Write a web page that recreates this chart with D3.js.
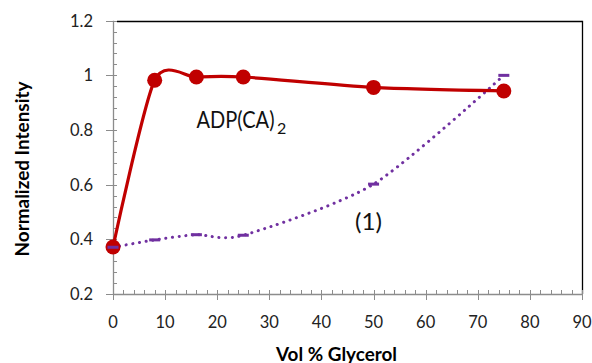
<!DOCTYPE html>
<html>
<head>
<meta charset="utf-8">
<script src="https://cdn.jsdelivr.net/npm/d3@7"></script>
<style>
  body { margin: 0; background: #fff; }
  text { font-family: Lato, "Open Sans", "Liberation Sans", sans-serif; }
</style>
</head>
<body>
<svg id="chart" width="592" height="363"></svg>
<script>
// data
var glycerol   = [0, 8, 16, 25, 50, 75];
var adpValues  = [0.372, 0.982, 0.994, 0.994, 0.956, 0.943];
var cmpdValues = [0.371, 0.398, 0.417, 0.415, 0.602, 1.0];
var xTicks = [0, 10, 20, 30, 40, 50, 60, 70, 80, 90];
var yTicks = [0.2, 0.4, 0.6, 0.8, 1, 1.2];

var svg = d3.select('#chart');
var pLeft = 113, pRight = 582, pTop = 20.7, pBottom = 294;

var x = d3.scaleLinear().domain([0, 90]).range([pLeft, pRight]);
var y = d3.scaleLinear().domain([0.2, 1.2]).range([pBottom, pTop]);

var grey = '#8c8c8c';
function snap(v) { return Math.round(v) + 0.5; }

// frame: top + right black lines
svg.append('line').attr('x1', pLeft + 4).attr('x2', pRight).attr('y1', snap(pTop)).attr('y2', snap(pTop))
  .attr('stroke', '#000').attr('stroke-width', 1.3);
svg.append('line').attr('x1', snap(pRight)).attr('x2', snap(pRight)).attr('y1', pTop).attr('y2', pBottom)
  .attr('stroke', '#000').attr('stroke-width', 1.3);

// y axis: minor ticks inside, major ticks outside
var yMinor = d3.range(0, 26).map(function(i) { return 0.2 + i * 0.04; });
svg.selectAll('.ymin').data(yMinor).enter().append('line')
  .attr('x1', pLeft).attr('x2', pLeft + 4)
  .attr('y1', function(d) { return snap(y(d)); })
  .attr('y2', function(d) { return snap(y(d)); })
  .attr('stroke', grey);
svg.selectAll('.ymaj').data(yTicks).enter().append('line')
  .attr('x1', pLeft - 7).attr('x2', pLeft)
  .attr('y1', function(d) { return snap(y(d)); })
  .attr('y2', function(d) { return snap(y(d)); })
  .attr('stroke', grey);
svg.append('line').attr('x1', snap(pLeft)).attr('x2', snap(pLeft)).attr('y1', pTop).attr('y2', pBottom)
  .attr('stroke', grey).attr('stroke-width', 1.3);

// x axis
var xMinor = d3.range(0, 46).map(function(i) { return i * 2; });
svg.selectAll('.xmin').data(xMinor).enter().append('line')
  .attr('x1', function(d) { return snap(x(d)); })
  .attr('x2', function(d) { return snap(x(d)); })
  .attr('y1', pBottom - 4).attr('y2', pBottom)
  .attr('stroke', grey);
svg.selectAll('.xmaj').data(xTicks).enter().append('line')
  .attr('x1', function(d) { return snap(x(d)); })
  .attr('x2', function(d) { return snap(x(d)); })
  .attr('y1', pBottom).attr('y2', pBottom + 6)
  .attr('stroke', grey);
svg.append('line').attr('x1', pLeft).attr('x2', pRight).attr('y1', snap(pBottom)).attr('y2', snap(pBottom))
  .attr('stroke', grey).attr('stroke-width', 1.3);

// tick labels
svg.selectAll('.ylab').data(yTicks).enter().append('text')
  .attr('x', 93).attr('y', function(d) { return y(d); })
  .attr('dy', '0.36em').attr('text-anchor', 'end')
  .attr('font-size', 16.5).attr('fill', '#222')
  .text(function(d) { return d; });
svg.selectAll('.xlab').data(xTicks).enter().append('text')
  .attr('x', function(d) { return x(d); }).attr('y', 328)
  .attr('text-anchor', 'middle')
  .attr('font-size', 16.5).attr('fill', '#222')
  .text(function(d) { return d; });

// axis titles
svg.append('text').attr('transform', 'translate(29,169) rotate(-90)')
  .attr('text-anchor', 'middle').attr('font-size', 18).attr('font-weight', 'bold')
  .attr('textLength', 175).attr('lengthAdjust', 'spacingAndGlyphs')
  .text('Normalized Intensity');
svg.append('text').attr('x', 276).attr('y', 361)
  .attr('font-size', 18).attr('font-weight', 'bold')
  .attr('textLength', 121).attr('lengthAdjust', 'spacingAndGlyphs')
  .text('Vol % Glycerol');

var pts = function(vals) { return glycerol.map(function(g, i) { return [g, vals[i]]; }); };
// cardinal spline, close to Excel's smoothed line
var line = d3.line()
  .x(function(d) { return x(d[0]); })
  .y(function(d) { return y(d[1]); })
  .curve(d3.curveCardinal.tension(0.25));

// purple dotted series with dash markers
svg.append('path').datum(pts(cmpdValues)).attr('d', line)
  .attr('fill', 'none').attr('stroke', '#7030A0').attr('stroke-width', 3)
  .attr('stroke-dasharray', '0.1 6.6').attr('stroke-linecap', 'round');
svg.selectAll('.dash').data(pts(cmpdValues)).enter().append('rect')
  .attr('x', function(d) { return x(d[0]) - 5.5; })
  .attr('y', function(d) { return y(d[1]) - 1.5; })
  .attr('width', 11).attr('height', 3)
  .attr('fill', '#7030A0');

// red series
svg.append('path').datum(pts(adpValues)).attr('d', line)
  .attr('fill', 'none').attr('stroke', '#C00000').attr('stroke-width', 3.2);
svg.selectAll('.dot').data(pts(adpValues)).enter().append('circle')
  .attr('cx', function(d) { return x(d[0]); })
  .attr('cy', function(d) { return y(d[1]); })
  .attr('r', 7.5).attr('fill', '#C00000');
// dash marker at 0 sits on top of the red dot
svg.append('rect').attr('x', x(0) - 5.5).attr('y', y(cmpdValues[0]) - 1.5)
  .attr('width', 11).attr('height', 3).attr('fill', '#7030A0');

// series labels
svg.append('text').attr('x', 196.5).attr('y', 128).attr('font-size', 24).attr('fill', '#111')
  .attr('textLength', 78).attr('lengthAdjust', 'spacingAndGlyphs').text('ADP(CA)');
svg.append('text').attr('x', 277).attr('y', 134).attr('font-size', 16).attr('fill', '#111').text('2');
svg.append('text').attr('x', 355).attr('y', 230).attr('font-size', 23).attr('fill', '#111')
  .attr('textLength', 27).attr('lengthAdjust', 'spacingAndGlyphs').text('(1)');
</script>
</body>
</html>
